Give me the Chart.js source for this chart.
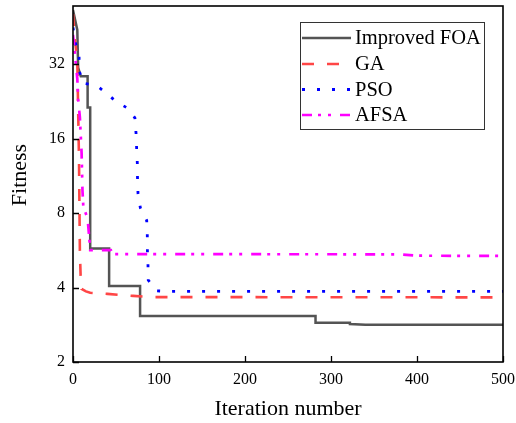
<!DOCTYPE html>
<html>
<head>
<meta charset="utf-8">
<script src="https://cdn.jsdelivr.net/npm/chart.js@4.4.1/dist/chart.umd.min.js"></script>
<style>
  html, body { margin: 0; padding: 0; background: #fff; }
  #wrap { width: 516px; height: 423px; }
</style>
</head>
<body>
<div id="wrap"><canvas id="c" width="516" height="423"></canvas></div>
<script>
// ---- data ----
const seriesNames = ["Improved FOA", "GA", "PSO", "AFSA"];
const xTicks = [0, 100, 200, 300, 400, 500];
const yTicks = [2, 4, 8, 16, 32];
const xTitle = "Iteration number";
const yTitle = "Fitness";

const foaIter = [0, 5, 6, 9, 17, 17, 20, 20, 42, 42, 78, 78, 282, 282, 322, 322, 340, 500];
const foaFit  = [53, 44, 31, 28.6, 28.6, 21.4, 21.4, 5.75, 5.75, 4.06, 4.06, 3.07, 3.07, 2.88, 2.88, 2.85, 2.83, 2.83];

const gaIter = [0, 2, 5, 6, 7, 8, 9, 10, 15, 20, 40, 70, 90, 500];
const gaFit  = [51, 41, 33, 20.8, 13, 5.6, 4.3, 3.95, 3.86, 3.81, 3.77, 3.70, 3.66, 3.65];

const psoIter = [0, 3, 7, 7.5, 11, 27, 39, 50, 64, 72, 73.3, 74, 74.8, 75, 75.6, 78.3, 85.7, 86.4, 86.5, 87.2, 87.5, 97, 110, 500];
const psoFit  = [45, 38.8, 34.7, 30, 26.8, 26.3, 24.4, 22.6, 21.2, 19.4, 16.8, 14.6, 12.7, 11.1, 9.6, 8.4, 7.47, 6.5, 5.67, 4.93, 4.29, 3.88, 3.86, 3.86];

const afsaIter = [0, 2, 3, 5, 6, 8, 10, 11, 12, 17, 19, 20, 44, 46, 380, 400, 500];
const afsaFit  = [42, 36, 33, 28, 23, 19.5, 14, 9.9, 8.5, 7.6, 6.3, 5.67, 5.67, 5.46, 5.45, 5.38, 5.37];

const toPts = (xs, ys) => xs.map((x, i) => ({ x: x, y: ys[i] }));

const SERIF = "'Liberation Serif', 'Times New Roman', serif";

// frame, inward tick marks, y title and legend
const decor = {
  id: 'decor',
  afterDraw(chart) {
    const { ctx, chartArea: a, scales } = chart;
    ctx.save();
    // inward tick marks
    ctx.strokeStyle = '#000';
    ctx.lineWidth = 1.3;
    ctx.beginPath();
    xTicks.forEach(v => {
      const px = Math.round(scales.x.getPixelForValue(v)) + 0.5;
      ctx.moveTo(px, a.bottom);
      ctx.lineTo(px, a.bottom - 6);
    });
    yTicks.forEach(v => {
      const py = Math.round(scales.y.getPixelForValue(v)) + 0.5;
      ctx.moveTo(a.left, py);
      ctx.lineTo(a.left + 6, py);
    });
    ctx.stroke();
    // frame
    ctx.lineWidth = 1.6;
    ctx.strokeRect(a.left, a.top, a.right - a.left, a.bottom - a.top);

    // y axis title
    ctx.save();
    ctx.translate(20, 175);
    ctx.rotate(-Math.PI / 2);
    ctx.font = "22px " + SERIF;
    ctx.fillStyle = '#000';
    ctx.textAlign = 'center';
    ctx.textBaseline = 'middle';
    ctx.fillText(yTitle, 0, 0);
    ctx.restore();

    // legend
    const bx = 300.5, by = 22.5, bw = 184, bh = 107;
    ctx.lineWidth = 1;
    ctx.strokeStyle = '#333';
    ctx.strokeRect(bx, by, bw, bh);
    const rows = [38, 64, 89.5, 115];
    ctx.font = "20.5px " + SERIF;
    ctx.textBaseline = 'middle';
    ctx.textAlign = 'left';
    chart.data.datasets.forEach((ds, i) => {
      const y = rows[i];
      ctx.beginPath();
      ctx.strokeStyle = ds.borderColor;
      ctx.lineWidth = ds.borderWidth;
      ctx.setLineDash(ds.borderDash || []);
      ctx.lineCap = 'butt';
      ctx.moveTo(302, y);
      ctx.lineTo(351, y);
      ctx.stroke();
      ctx.setLineDash([]);
      ctx.fillStyle = '#000';
      ctx.fillText(ds.label, 355, y + 1);
    });
    ctx.restore();
  }
};

new Chart(document.getElementById('c'), {
  type: 'line',
  data: {
    datasets: [
      { label: seriesNames[0], data: toPts(foaIter, foaFit), borderColor: '#545454', borderWidth: 2.5, order: 3 },
      { label: seriesNames[1], data: toPts(gaIter, gaFit), borderColor: '#FF4646', borderWidth: 2.6, borderDash: [12, 13], order: 2 },
      { label: seriesNames[2], data: toPts(psoIter, psoFit), borderColor: '#0000FF', borderWidth: 2.8, borderDash: [3, 12], order: 1 },
      { label: seriesNames[3], data: toPts(afsaIter, afsaFit), borderColor: '#FF00FF', borderWidth: 2.7, borderDash: [10, 6, 3, 7, 3, 9], order: 0 }
    ]
  },
  options: {
    responsive: false,
    animation: false,
    devicePixelRatio: 1,
    layout: { padding: { left: 0, right: 13, top: 6, bottom: 0 } },
    elements: { point: { radius: 0 }, line: { tension: 0, fill: false } },
    plugins: { legend: { display: false }, tooltip: { enabled: false } },
    scales: {
      x: {
        type: 'linear', min: 0, max: 500,
        afterFit: s => { s.height = 61; s.paddingLeft = 0; s.paddingRight = 0; },
        afterBuildTicks: s => { s.ticks = xTicks.map(v => ({ value: v })); },
        grid: { display: false, drawTicks: false },
        border: { display: false },
        ticks: { color: '#000', padding: 8, font: { family: SERIF, size: 16 }, maxRotation: 0 },
        title: { display: true, text: xTitle, color: '#000', font: { family: SERIF, size: 22 }, padding: { top: 0, bottom: 1 } }
      },
      y: {
        type: 'logarithmic', min: 2, max: 55,
        afterFit: s => { s.width = 73; s.paddingTop = 0; s.paddingBottom = 0; },
        afterBuildTicks: s => { s.ticks = yTicks.map(v => ({ value: v })); },
        grid: { display: false, drawTicks: false },
        border: { display: false },
        ticks: { color: '#000', padding: 8, font: { family: SERIF, size: 16 }, callback: v => String(v) },
        title: { display: false, text: yTitle }
      }
    }
  },
  plugins: [decor]
});
</script>
</body>
</html>
